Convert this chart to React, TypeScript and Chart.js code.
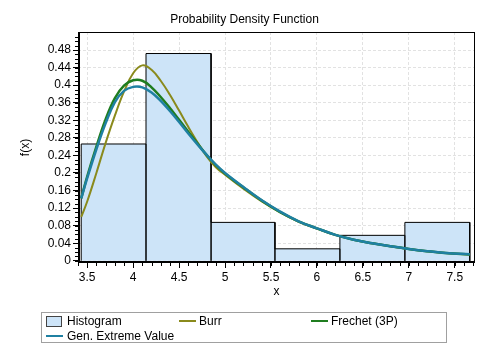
import React, { useEffect, useRef } from "react";
import { Chart, registerables } from "chart.js";

Chart.register(...registerables);

// Histogram bins
const binEdges = [3.435, 4.14, 4.848, 5.543, 6.25, 6.957, 7.663];
const binHeights = [0.266, 0.472, 0.0875, 0.0273, 0.058, 0.0875];

// Fitted density curves
const curveX = [3.435, 3.5, 3.6, 3.7, 3.8, 3.9, 4.0, 4.1, 4.2, 4.3, 4.4, 4.5, 4.6, 4.7, 4.8, 4.9, 5.0, 5.2, 5.4, 5.6, 5.8, 6.0, 6.2, 6.4, 6.6, 6.8, 7.0, 7.2, 7.4, 7.663];
const burrY = [0.1, 0.135, 0.2, 0.268, 0.33, 0.385, 0.427, 0.445, 0.435, 0.41, 0.378, 0.342, 0.305, 0.27, 0.238, 0.213, 0.196, 0.164, 0.135, 0.11, 0.089, 0.073, 0.059, 0.048, 0.04, 0.033, 0.027, 0.022, 0.018, 0.0146];
const frechetY = [0.142, 0.192, 0.26, 0.322, 0.37, 0.399, 0.411, 0.41, 0.395, 0.373, 0.348, 0.321, 0.294, 0.267, 0.241, 0.218, 0.199, 0.167, 0.137, 0.111, 0.09, 0.074, 0.059, 0.048, 0.04, 0.033, 0.027, 0.022, 0.018, 0.0145];
const gevY = [0.142, 0.188, 0.254, 0.313, 0.361, 0.387, 0.396, 0.395, 0.383, 0.364, 0.341, 0.316, 0.29, 0.265, 0.241, 0.219, 0.2, 0.168, 0.138, 0.112, 0.09, 0.074, 0.059, 0.048, 0.04, 0.033, 0.027, 0.022, 0.018, 0.0148];

// Axis ticks
const xTicks = [3.5, 4, 4.5, 5, 5.5, 6, 6.5, 7, 7.5];
const yTicks = [0, 0.04, 0.08, 0.12, 0.16, 0.2, 0.24, 0.28, 0.32, 0.36, 0.4, 0.44, 0.48];
const xMinorStep = 0.1;
const yMinorStep = 0.01;

const FONT = "Arial, 'Liberation Sans', sans-serif";
const burrColor = "#8a8a1c";
const frechetColor = "#1f7d1f";
const gevColor = "#1f80a2";
const histFill = "#cde4f8";

const fmt = (v: number) => String(+v.toFixed(2));

const framePlugin = {
  id: "frame",
  afterDraw(chart: any) {
    const { ctx, chartArea: a, scales } = chart;
    const xs = scales.x;
    const ys = scales.y;
    ctx.save();
    ctx.strokeStyle = "#000";
    ctx.lineWidth = 1;
    ctx.beginPath();
    for (let v = 3.4; v <= 7.72; v += xMinorStep) {
      const px = Math.round(xs.getPixelForValue(v)) + 0.5;
      if (px < a.left || px > a.right) continue;
      ctx.moveTo(px, a.bottom);
      ctx.lineTo(px, a.bottom + 3);
    }
    for (let v = 0; v <= 0.52; v += yMinorStep) {
      const py = Math.round(ys.getPixelForValue(v)) + 0.5;
      if (py < a.top || py > a.bottom) continue;
      ctx.moveTo(a.left, py);
      ctx.lineTo(a.left - 3, py);
    }
    ctx.stroke();
    ctx.strokeRect(a.left + 0.5, a.top + 0.5, a.right - a.left - 1, a.bottom - a.top - 1);
    ctx.lineWidth = 2;
    ctx.beginPath();
    ctx.moveTo(a.left + 1, a.top);
    ctx.lineTo(a.left + 1, a.bottom - 1);
    ctx.lineTo(a.right, a.bottom - 1);
    ctx.stroke();
    ctx.restore();
  },
};

export default function App() {
  const ref = useRef<HTMLCanvasElement>(null);

  useEffect(() => {
    if (!ref.current) return;
    const histPts: { x: number; y: number }[] = [];
    for (let i = 0; i < binHeights.length; i++) {
      histPts.push({ x: binEdges[i], y: 0 });
      histPts.push({ x: binEdges[i], y: binHeights[i] });
      histPts.push({ x: binEdges[i + 1], y: binHeights[i] });
    }
    histPts.push({ x: binEdges[binEdges.length - 1], y: 0 });
    const curve = (ys: number[]) => curveX.map((x, i) => ({ x, y: ys[i] }));

    const chart = new Chart(ref.current, {
      type: "line",
      data: {
        datasets: [
          {
            label: "Gen. Extreme Value",
            data: curve(gevY),
            borderColor: gevColor,
            borderWidth: 2.5,
            pointRadius: 0,
            tension: 0.4,
            fill: false,
            order: 1,
          },
          {
            label: "Frechet (3P)",
            data: curve(frechetY),
            borderColor: frechetColor,
            borderWidth: 2.5,
            pointRadius: 0,
            tension: 0.4,
            fill: false,
            order: 2,
          },
          {
            label: "Burr",
            data: curve(burrY),
            borderColor: burrColor,
            borderWidth: 2,
            pointRadius: 0,
            tension: 0.4,
            fill: false,
            order: 3,
          },
          {
            label: "Histogram",
            data: histPts,
            borderColor: "#000",
            borderWidth: 1,
            backgroundColor: histFill,
            pointRadius: 0,
            tension: 0,
            fill: "origin",
            order: 4,
          },
        ],
      },
      options: {
        animation: false,
        responsive: false,
        maintainAspectRatio: false,
        layout: { padding: { left: 14, top: 32, right: 14, bottom: 50 } },
        plugins: {
          legend: { display: false },
          title: { display: false },
          tooltip: { enabled: false },
        },
        scales: {
          x: {
            type: "linear",
            min: 3.4,
            max: 7.72,
            offset: false,
            afterBuildTicks: (s: any) => {
              s.ticks = xTicks.map((v) => ({ value: v }));
            },
            afterFit: (s: any) => {
              s.height = 40;
            },
            ticks: {
              autoSkip: false,
              maxRotation: 0,
              padding: 2,
              color: "#000",
              font: { family: FONT, size: 12 },
              callback: (v: any) => fmt(Number(v)),
            },
            grid: {
              color: "#e2e2e2",
              tickColor: "#000",
              tickLength: 5,
              drawTicks: true,
            },
            border: { display: false, dash: [3, 2] },
            title: {
              display: true,
              text: "x",
              color: "#000",
              font: { family: FONT, size: 12 },
            },
          },
          y: {
            type: "linear",
            min: -0.005,
            max: 0.521,
            afterBuildTicks: (s: any) => {
              s.ticks = yTicks.map((v) => ({ value: v }));
            },
            afterFit: (s: any) => {
              s.width = 64;
            },
            ticks: {
              autoSkip: false,
              padding: 2,
              color: "#000",
              font: { family: FONT, size: 12 },
              callback: (v: any) => fmt(Number(v)),
            },
            grid: {
              color: "#e2e2e2",
              tickColor: "#000",
              tickLength: 5,
              drawTicks: true,
            },
            border: { display: false, dash: [3, 2] },
            title: {
              display: true,
              text: "f(x)",
              color: "#000",
              font: { family: FONT, size: 12 },
            },
          },
        },
      },
      plugins: [framePlugin],
    } as any);
    return () => chart.destroy();
  }, []);

  const legendText: React.CSSProperties = {
    position: "absolute",
    fontFamily: FONT,
    fontSize: 12,
    lineHeight: "14px",
    color: "#000",
    whiteSpace: "nowrap",
  };
  const line = (x: number, y: number, c: string): React.CSSProperties => ({
    position: "absolute",
    left: x,
    top: y,
    width: 17,
    height: 2,
    background: c,
  });

  return (
    <div style={{ position: "fixed", left: 0, top: 0, width: 489, height: 353, background: "#fff" }}>
      <canvas ref={ref} width={489} height={353} style={{ position: "absolute", left: 0, top: 0, width: 489, height: 353 }} />
      <div
        style={{
          position: "absolute",
          left: 0,
          top: 12,
          width: 489,
          textAlign: "center",
          fontFamily: FONT,
          fontSize: 12,
          lineHeight: "14px",
          color: "#000",
        }}
      >
        Probability Density Function
      </div>
      <div
        style={{
          position: "absolute",
          left: 41,
          top: 312,
          width: 406,
          height: 31,
          border: "1px solid #a0a0a0",
          boxSizing: "border-box",
        }}
      />
      <div
        style={{
          position: "absolute",
          left: 46,
          top: 316,
          width: 16,
          height: 11,
          background: histFill,
          border: "1px solid #444",
          boxSizing: "border-box",
        }}
      />
      <div style={{ ...legendText, left: 67, top: 314 }}>Histogram</div>
      <div style={line(179, 320, burrColor)} />
      <div style={{ ...legendText, left: 199, top: 314 }}>Burr</div>
      <div style={line(311, 320, frechetColor)} />
      <div style={{ ...legendText, left: 331, top: 314 }}>Frechet (3P)</div>
      <div style={line(46, 335, gevColor)} />
      <div style={{ ...legendText, left: 67, top: 329 }}>Gen. Extreme Value</div>
    </div>
  );
}
